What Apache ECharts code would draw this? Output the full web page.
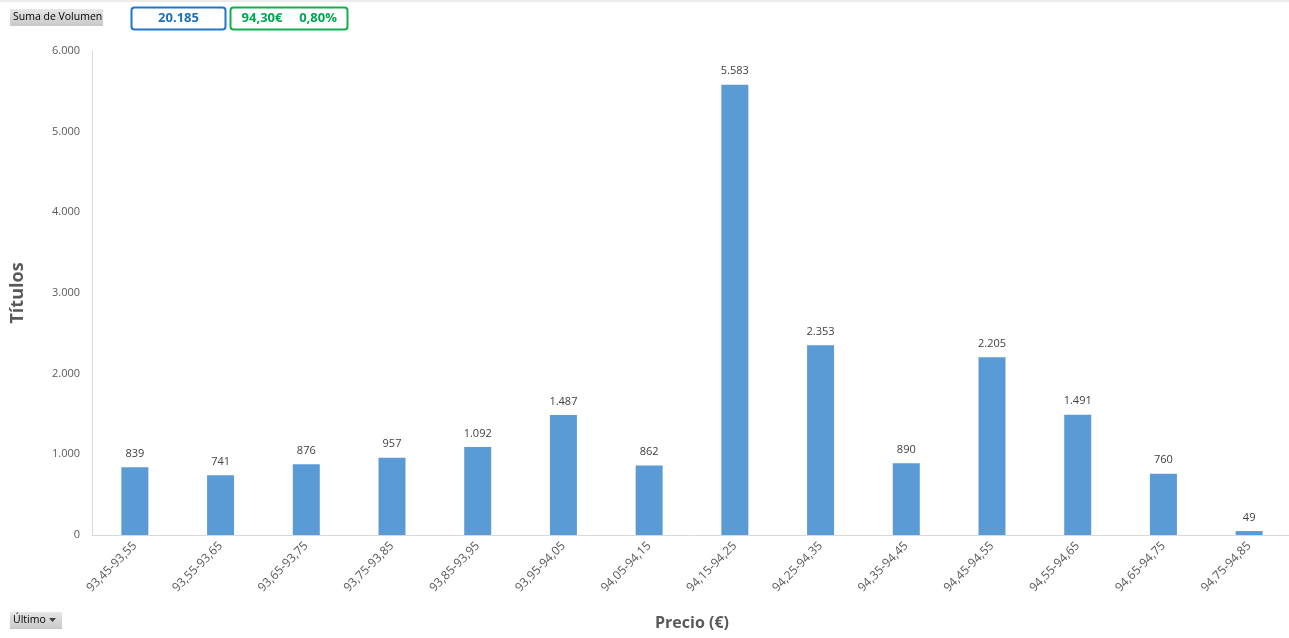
<!DOCTYPE html>
<html>
<head>
<meta charset="utf-8">
<script src="https://cdn.jsdelivr.net/npm/echarts@6/dist/echarts.min.js"></script>
<style>
  html, body { margin: 0; padding: 0; background: #fff; overflow: hidden; }
  #charts { width: 1289px; height: 638px; }
</style>
</head>
<body>
<div id="charts"></div>
<script>
// rangos de precio y títulos negociados
const categories = [
  '93,45-93,55', '93,55-93,65', '93,65-93,75', '93,75-93,85', '93,85-93,95',
  '93,95-94,05', '94,05-94,15', '94,15-94,25', '94,25-94,35', '94,35-94,45',
  '94,45-94,55', '94,55-94,65', '94,65-94,75', '94,75-94,85'
]
const volumen = [839, 741, 876, 957, 1092, 1487, 862, 5583, 2353, 890, 2205, 1491, 760, 49]
const totalVolumen = '20.185'
const ultimoPrecio = '94,30€'
const variacion = '0,80%'

const fmt = v => String(v).replace(/\B(?=(\d{3})+(?!\d))/g, '.')
const font = "'Open Sans', 'Noto Sans', sans-serif"

const charts = echarts.init(document.getElementById('charts'))
const option = {
  animation: false,
  textStyle: { fontFamily: font },
  grid: { left: 92, width: 1200, top: 51, height: 484, containLabel: false, outerBoundsMode: 'none' },
  xAxis: {
    type: 'category',
    data: categories,
    name: 'Precio (€)',
    nameLocation: 'middle',
    nameGap: 80,
    nameTextStyle: { fontSize: 16, fontWeight: 'bold', color: '#595959', fontFamily: font },
    axisLine: { lineStyle: { color: '#d9d9d9' } },
    axisTick: { show: false },
    axisLabel: {
      rotate: 45,
      interval: 0,
      fontSize: 12,
      color: '#595959',
      margin: 9
    }
  },
  yAxis: {
    type: 'value',
    min: 0,
    max: 6000,
    interval: 1000,
    name: 'Títulos',
    nameLocation: 'middle',
    nameGap: 65,
    nameTextStyle: { fontSize: 18, fontWeight: 'bold', color: '#595959', fontFamily: font },
    axisLine: { show: true, lineStyle: { color: '#d9d9d9' } },
    splitLine: { show: false },
    axisLabel: {
      fontSize: 11,
      color: '#595959',
      margin: 12,
      formatter: v => fmt(v)
    }
  },
  series: [
    {
      name: 'Suma de Volumen',
      type: 'bar',
      data: volumen,
      barWidth: 27,
      itemStyle: { color: '#5b9bd5' },
      label: {
        show: true,
        position: 'top',
        distance: 8,
        fontSize: 11,
        color: '#404040',
        formatter: p => fmt(p.value)
      }
    }
  ],
  graphic: [
    { type: 'line', shape: { x1: 0, y1: 1, x2: 1289, y2: 1 }, style: { stroke: '#d9d9d9', lineWidth: 1 } },
    {
      type: 'rect', shape: { x: 10, y: 9, width: 93, height: 17 },
      style: { fill: { type: 'linear', x: 0, y: 0, x2: 0, y2: 1, colorStops: [{ offset: 0, color: '#e6e6e6' }, { offset: 1, color: '#c8c8c8' }] } }
    },
    { type: 'text', x: 13, y: 17.5, style: { text: 'Suma de Volumen', fontSize: 10.5, fill: '#000', verticalAlign: 'middle', fontFamily: font } },
    {
      type: 'rect', shape: { x: 131.5, y: 7.5, width: 94, height: 22, r: 3 },
      style: { fill: '#fff', stroke: '#1f77c9', lineWidth: 2 }
    },
    { type: 'text', x: 178.5, y: 18.5, style: { text: totalVolumen, fontSize: 13, fontWeight: 'bold', fill: '#1f6fb4', align: 'center', verticalAlign: 'middle', fontFamily: font } },
    {
      type: 'rect', shape: { x: 230.5, y: 7.5, width: 117, height: 22, r: 3 },
      style: { fill: '#fff', stroke: '#10b050', lineWidth: 2 }
    },
    { type: 'text', x: 262, y: 18.5, style: { text: ultimoPrecio, fontSize: 13, fontWeight: 'bold', fill: '#00a650', align: 'center', verticalAlign: 'middle', fontFamily: font } },
    { type: 'text', x: 318, y: 18.5, style: { text: variacion, fontSize: 13, fontWeight: 'bold', fill: '#00a650', align: 'center', verticalAlign: 'middle', fontFamily: font } },
    {
      type: 'rect', shape: { x: 10, y: 612, width: 52, height: 17 },
      style: { fill: { type: 'linear', x: 0, y: 0, x2: 0, y2: 1, colorStops: [{ offset: 0, color: '#e6e6e6' }, { offset: 1, color: '#c8c8c8' }] } }
    },
    { type: 'text', x: 13, y: 620.5, style: { text: 'Último', fontSize: 10.5, fill: '#000', verticalAlign: 'middle', fontFamily: font } },
    { type: 'polygon', shape: { points: [[49, 618], [56, 618], [52.5, 622]] }, style: { fill: '#404040' } }
  ]
}
charts.setOption(option)
</script>
</body>
</html>
